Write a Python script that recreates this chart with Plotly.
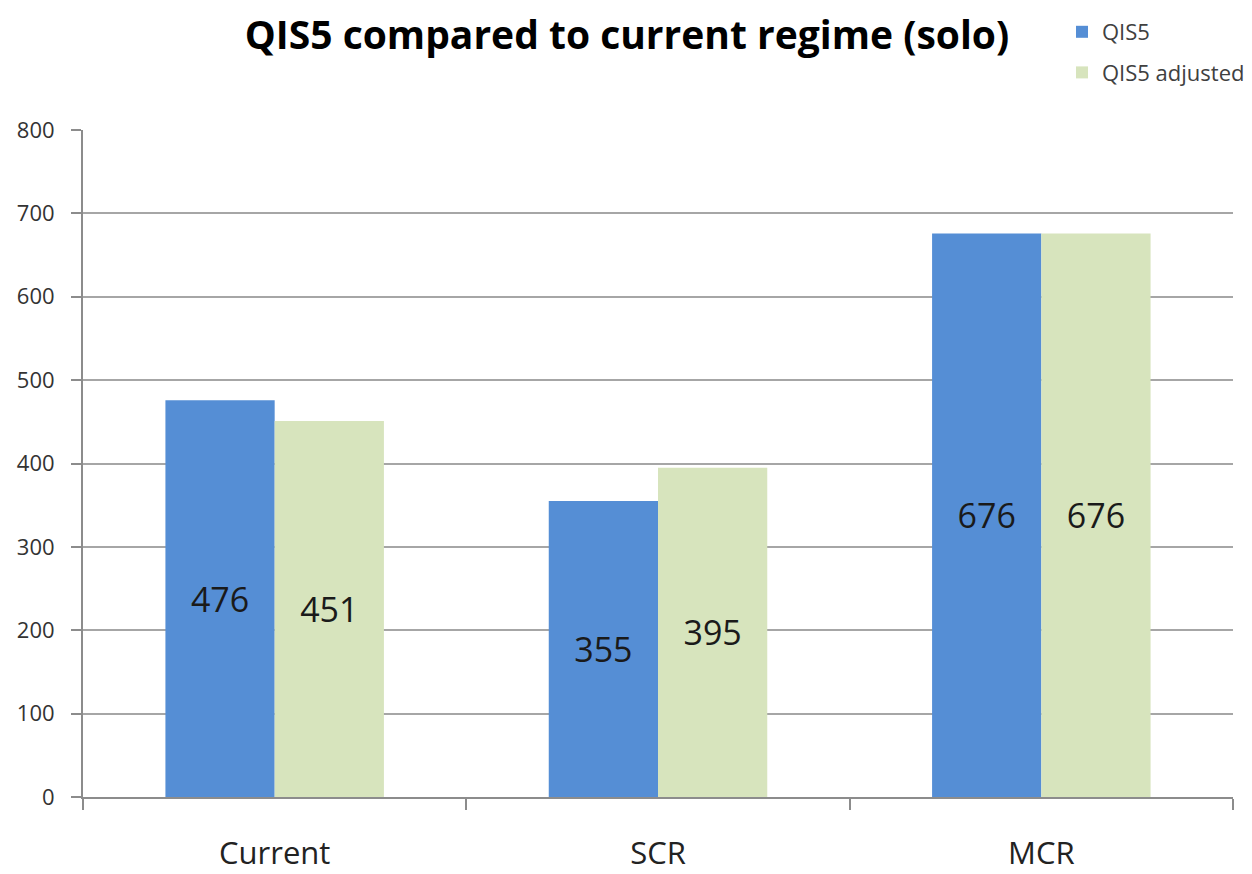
import plotly.graph_objects as go

categories = ["Current", "SCR", "MCR"]
qis5 = [476, 355, 676]
qis5_adjusted = [451, 395, 676]
series_names = ["QIS5", "QIS5 adjusted"]
y_ticks = [0, 100, 200, 300, 400, 500, 600, 700, 800]

FONT = "Open Sans"
W, H = 1244, 866  # page body has an 8px margin

fig = go.Figure()
fig.add_trace(go.Bar(
    x=categories, y=qis5, name=series_names[0], legendgroup="a",
    marker=dict(color="#558ED5", line=dict(width=0)),
    text=[str(v) for v in qis5], textposition="inside", insidetextanchor="middle",
    textfont=dict(family=FONT, size=34, color="#1a1a1a"), textangle=0,
))
fig.add_trace(go.Bar(
    x=categories, y=qis5_adjusted, name=series_names[1], legendgroup="b",
    marker=dict(color="#D7E4BD", line=dict(width=0)),
    text=[str(v) for v in qis5_adjusted], textposition="inside", insidetextanchor="middle",
    textfont=dict(family=FONT, size=34, color="#1a1a1a"), textangle=0,
))

fig.update_layout(
    width=W, height=H,
    margin=dict(l=75, r=19, t=122, b=77, autoexpand=False),
    paper_bgcolor="white", plot_bgcolor="white",
    barmode="group", bargap=0.43, bargroupgap=0,
    title=dict(text="<b>QIS5 compared to current regime (solo)</b>",
               x=619 / W, xref="container", xanchor="center",
               y=1 - 27 / H, yref="container", yanchor="middle",
               font=dict(family=FONT, size=39, color="#000000")),
    legend=dict(x=1054 / W, xref="container", xanchor="left",
                y=1 - 3 / H, yref="container", yanchor="top",
                traceorder="grouped", tracegroupgap=9,
                font=dict(family=FONT, size=22, color="#404040"),
                bgcolor="rgba(0,0,0,0)"),
    font=dict(family=FONT),
)

fig.update_xaxes(
    type="category", showgrid=False, showline=True, linecolor="#8c8c8c", linewidth=2,
    ticks="outside", tickson="boundaries", ticklen=11, tickwidth=2, tickcolor="#8c8c8c",
    tickfont=dict(family=FONT, size=31, color="#222222"), ticklabelstandoff=28,
)
fig.update_yaxes(
    range=[0, 800], tickvals=y_ticks, showgrid=True, gridcolor="#a6a6a6", gridwidth=1.5,
    showline=True, linecolor="#8c8c8c", linewidth=2, zeroline=False,
    ticks="outside", ticklen=10, tickwidth=2, tickcolor="#8c8c8c",
    tickfont=dict(family=FONT, size=22, color="#333333"), ticklabelstandoff=12,
)

fig.write_html("out.html")
